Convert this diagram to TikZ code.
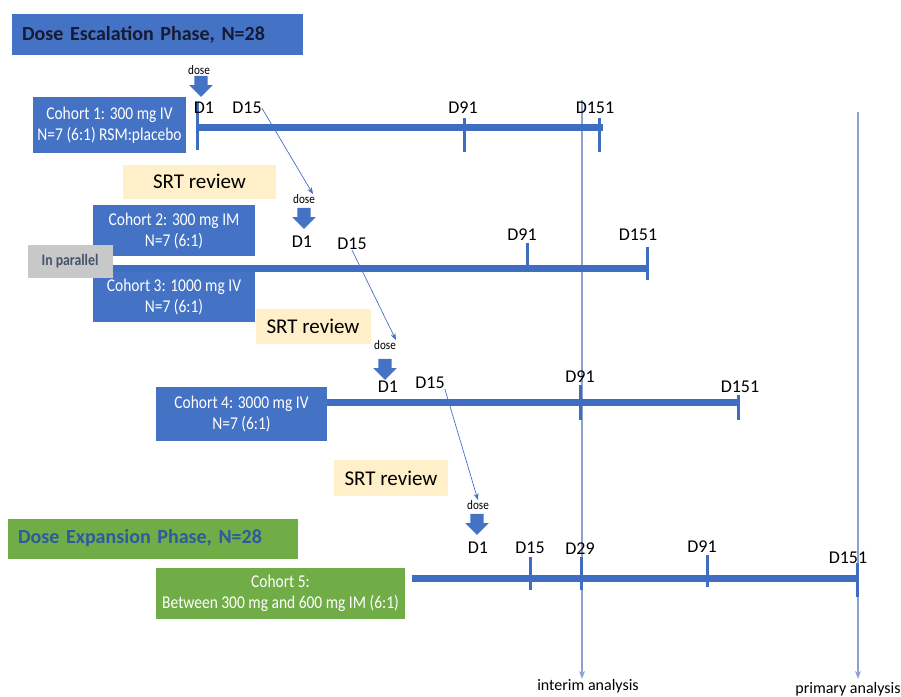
\documentclass[tikz,border=0pt]{standalone}
\usepackage{fontspec}
\setmainfont{Carlito}
\newfontfamily\narrowfont{Carlito}[FakeStretch=0.86]
\usetikzlibrary{shapes.arrows,arrows.meta}

\definecolor{boxblue}{HTML}{4472C4}
\definecolor{barblue}{HTML}{3F6DC1}
\definecolor{boxgreen}{HTML}{70AD47}
\definecolor{reviewtan}{HTML}{FFF0C9}
\definecolor{pargray}{HTML}{C8C8C8}
\definecolor{partext}{HTML}{44546A}
\definecolor{escatext}{HTML}{161B33}
\definecolor{expatext}{HTML}{2E5B9E}
\definecolor{analysisline}{HTML}{8EA2CF}

\tikzset{
  phase/.style={inner xsep=10pt, inner ysep=0pt, minimum height=41pt, text width=271pt,
    align=left, font=\fontsize{20}{22}\selectfont\bfseries},
  cohort/.style={fill=boxblue, text=white, align=center, inner sep=0pt,
    font=\narrowfont\fontsize{18}{21}\selectfont},
  review/.style={fill=reviewtan, inner sep=0pt, font=\fontsize{21}{23}\selectfont},
  day/.style={inner sep=0pt, font=\fontsize{18}{20}\selectfont},
  dosetxt/.style={inner sep=0pt, font=\narrowfont\fontsize{13}{14}\selectfont},
  dosearrow/.style={single arrow, fill=boxblue, draw=none, shape border rotate=270,
    inner sep=6.5pt, minimum height=21pt, single arrow head extend=5pt},
  bar/.style={barblue, line width=7pt},
  tick/.style={barblue, line width=3pt},
  link/.style={boxblue, line width=0.7pt, -{Stealth[length=7pt,width=5pt]}},
  analysis/.style={analysisline, line width=1.4pt, -{Stealth[length=8pt,width=6pt]}},
  outcome/.style={inner sep=0pt, font=\fontsize{16}{18}\selectfont},
}

\begin{document}
\begin{tikzpicture}[x=1pt, y=-1pt]
  \useasboundingbox (0,0) rectangle (901,696);

  % analysis lines (behind the timelines)
  \coordinate (itop) at (582,100);
  \coordinate (ptop) at (858,112);
  \node[outcome] (interim) at (588,686) {interim analysis};
  \node[outcome] (primary) at (848,689) {primary analysis};
  \draw[analysis] (itop) -- (interim.north -| itop);
  \draw[analysis] (ptop) -- ([yshift=3pt]primary.north -| ptop);

  % escalation phase
  \node[phase, fill=boxblue, text=escatext] (escal) at (157.5,34.5) {Dose Escalation Phase, N=28};

  % cohort 1
  \node[cohort, minimum width=153pt, minimum height=56pt] (coh1) at (109.5,125)
    {Cohort 1: 300 mg IV\\N=7 (6:1) RSM:placebo};
  \node[dosetxt] (dose1) at (199,70) {dose};
  \node[dosearrow] (arr1) at (201,83) {};
  \coordinate (t1s) at (197,127);
  \coordinate (t1e) at (603,127);
  \draw[bar] (t1s) -- (t1e);
  \draw[tick] (197,102) -- (197,150);
  \draw[tick] (464,118) -- (464,152);
  \draw[tick] (599,118) -- (599,152);
  \node[day] (c1d1) at (204,108) {D1};
  \node[day] (c1d15) at (247,108) {D15};
  \node[day] (c1d91) at (463,108) {D91};
  \node[day] (c1d151) at (595,108) {D151};

  \node[review, minimum width=153pt, minimum height=34pt] (srt1) at (199.5,181.5) {SRT review};

  % cohorts 2 and 3
  \node[cohort, minimum width=162pt, minimum height=51pt] (coh2) at (174,230.5)
    {Cohort 2: 300 mg IM\\N=7 (6:1)};
  \node[cohort, minimum width=162pt, minimum height=50pt] (coh3) at (174,297)
    {Cohort 3: 1000 mg IV\\N=7 (6:1)};
  \node[fill=pargray, text=partext, inner sep=0pt, minimum width=85pt, minimum height=33pt,
    font=\narrowfont\fontsize{16}{18}\selectfont\bfseries] (para) at (70,261.5) {In parallel};
  \node[dosetxt] (dose2) at (304,199) {dose};
  \node[dosearrow] (arr2) at (304,215) {};
  \coordinate (t2e) at (648,268);
  \draw[bar] (para.east |- t2e) -- (t2e);
  \draw[tick] (527,243) -- (527,272);
  \draw[tick] (647,247) -- (647,280);
  \node[day] (c2d1) at (302,242) {D1};
  \node[day] (c2d15) at (352,244) {D15};
  \node[day] (c2d91) at (522,235) {D91};
  \node[day] (c2d151) at (638,235) {D151};
  \draw[link] (c1d15.east) -- ([xshift=-2pt]dose2.north east);

  \node[review, minimum width=115pt, minimum height=35pt] (srt2) at (313,326.5) {SRT review};

  % cohort 4
  \node[cohort, minimum width=171pt, minimum height=54pt] (coh4) at (241.5,414)
    {Cohort 4: 3000 mg IV\\N=7 (6:1)};
  \node[dosetxt] (dose3) at (385,345) {dose};
  \node[dosearrow] (arr3) at (385,366) {};
  \coordinate (t4e) at (738,402);
  \draw[bar] (coh4.east |- t4e) -- (t4e);
  \draw[tick] (580,385) -- (580,420);
  \draw[tick] (738,395) -- (738,420);
  \node[day] (c4d1) at (388,387) {D1};
  \node[day] (c4d15) at (430,383) {D15};
  \node[day] (c4d91) at (580,377) {D91};
  \node[day] (c4d151) at (740,387) {D151};
  \draw[link] (c2d15.south) -- (dose3.north east);

  \node[review, minimum width=114pt, minimum height=36pt] (srt3) at (391,478) {SRT review};

  % expansion phase
  \node[phase, fill=boxgreen, text=expatext, minimum height=40pt, text width=270pt] (expan) at (153,538.5)
    {Dose Expansion Phase, N=28};
  \node[cohort, fill=boxgreen, minimum width=249pt, minimum height=51pt] (coh5) at (280.5,593.5)
    {Cohort 5:\\Between 300 mg and 600 mg IM (6:1)};
  \node[dosetxt] (dose4) at (478,505) {dose};
  \node[dosearrow] (arr4) at (477,521) {};
  \coordinate (t5s) at (412,578);
  \coordinate (t5e) at (858,578);
  \draw[bar] (t5s) -- (t5e);
  \draw[tick] (530,557) -- (530,590);
  \draw[tick] (581,557) -- (581,590);
  \draw[tick] (707,555) -- (707,587);
  \draw[tick] (857,563) -- (857,597);
  \node[day] (c5d1) at (478,548) {D1};
  \node[day] (c5d15) at (530,548) {D15};
  \node[day] (c5d29) at (580,549) {D29};
  \node[day] (c5d91) at (702,547) {D91};
  \node[day] (c5d151) at (848,558) {D151};
  \draw[link] (c4d15.south east) -- (dose4.north);
\end{tikzpicture}
\end{document}
